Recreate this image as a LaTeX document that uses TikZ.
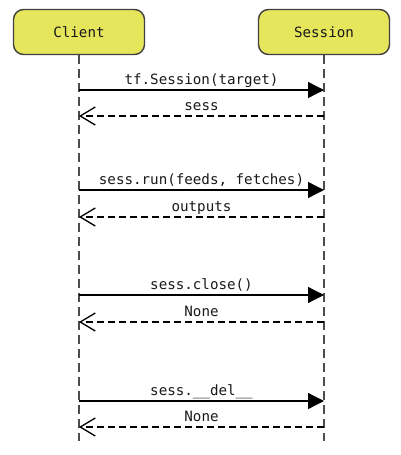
\documentclass[tikz,border=0pt]{standalone}
\usepackage{fontspec}
\setmonofont{DejaVu Sans Mono}
\usetikzlibrary{arrows.meta}
\definecolor{boxyellow}{HTML}{E6E65C}
\begin{document}
\begin{tikzpicture}[x=1pt,y=-1pt,
    every node/.style={font=\ttfamily\fontsize{14.2}{16}\selectfont, text=black!90},
    actor/.style={draw=black!75, line width=1.4pt, fill=boxyellow, rounded corners=10pt,
      minimum width=131pt, minimum height=45pt},
    lifeline/.style={draw=black!70, line width=1.8pt, dash pattern=on 9pt off 5pt},
    call/.style={-{Triangle[length=16pt,width=16pt]}, line width=1.3pt},
    reply/.style={-{Straight Barb[length=15pt,width=18pt,line width=1.3pt]}, line width=1.3pt, dash pattern=on 7pt off 4pt},
    msg/.style={midway, anchor=base, yshift=6pt, inner sep=0pt}]
  \useasboundingbox (0,0) rectangle (401,455);
  % actors
  \node[actor] (client) at (79,32) {Client};
  \node[actor] (session) at (324,32) {Session};
  \coordinate (client end) at (79,441);
  \coordinate (session end) at (324,441);
  \draw[lifeline] (client.south) -- (client end);
  \draw[lifeline] (session.south) -- (session end);
  % messages
  \coordinate (c1) at (79,90);  \coordinate (s1) at (324,90);
  \coordinate (c2) at (79,116); \coordinate (s2) at (324,116);
  \coordinate (c3) at (79,190); \coordinate (s3) at (324,190);
  \coordinate (c4) at (79,217); \coordinate (s4) at (324,217);
  \coordinate (c5) at (79,295); \coordinate (s5) at (324,295);
  \coordinate (c6) at (79,322); \coordinate (s6) at (324,322);
  \coordinate (c7) at (79,401); \coordinate (s7) at (324,401);
  \coordinate (c8) at (79,427); \coordinate (s8) at (324,427);
  \draw[call] (c1) -- node[msg] {tf.Session(target)} (s1);
  \draw[reply] (s2) -- node[msg] {sess} (c2);
  \draw[call] (c3) -- node[msg] {sess.run(feeds, fetches)} (s3);
  \draw[reply] (s4) -- node[msg] {outputs} (c4);
  \draw[call] (c5) -- node[msg] {sess.close()} (s5);
  \draw[reply] (s6) -- node[msg] {None} (c6);
  \draw[call] (c7) -- node[msg] {sess.\_\_del\_\_} (s7);
  \draw[reply] (s8) -- node[msg] {None} (c8);
\end{tikzpicture}
\end{document}
